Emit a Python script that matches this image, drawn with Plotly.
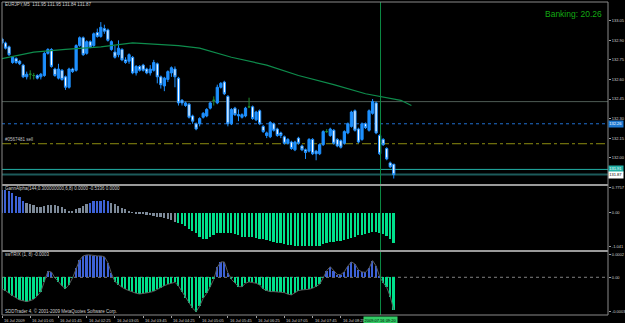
import plotly.graph_objects as go
from plotly.subplots import make_subplots

# ---------------- data ----------------
bar_index = list(range(112))
opens = [132.91,132.88,132.85,132.73,132.76,132.74,132.71,132.62,132.64,132.63,
         132.63,132.62,132.63,132.80,132.83,132.68,132.61,132.67,132.62,132.54,
         132.68,132.67,132.86,132.92,132.80,132.89,132.86,132.96,132.93,132.99,
         132.98,132.83,132.81,132.79,132.83,132.75,132.74,132.77,132.65,132.70,
         132.71,132.68,132.65,132.67,132.72,132.62,132.55,132.60,132.65,132.68,
         132.61,132.44,132.40,132.41,132.32,132.26,132.26,132.31,132.32,132.38,
         132.44,132.42,132.54,132.58,132.47,132.26,132.38,132.32,132.31,132.32,
         132.39,132.39,132.29,132.36,132.24,132.17,132.16,132.26,132.22,132.19,
         132.16,132.11,132.12,132.06,132.15,132.09,132.06,132.05,132.14,132.05,
         132.03,132.10,132.20,132.17,132.21,132.14,132.13,132.11,132.19,132.24,
         132.36,132.22,132.14,132.26,132.21,132.34,132.42,132.17,132.14,132.07,
         131.96,131.95]
highs = [132.92,132.89,132.86,132.77,132.77,132.75,132.72,132.66,132.67,132.65,
         132.64,132.65,132.81,132.84,132.84,132.69,132.72,132.68,132.63,132.69,
         132.69,132.87,132.93,132.93,132.90,132.90,132.96,132.99,133.04,133.02,
         132.99,132.90,132.86,132.90,132.84,132.77,132.80,132.78,132.71,132.71,
         132.72,132.69,132.71,132.75,132.73,132.63,132.62,132.67,132.70,132.70,
         132.62,132.45,132.43,132.42,132.33,132.27,132.31,132.35,132.38,132.43,
         132.47,132.56,132.58,132.59,132.48,132.38,132.39,132.37,132.34,132.39,
         132.46,132.40,132.36,132.37,132.25,132.20,132.28,132.27,132.23,132.20,
         132.17,132.15,132.13,132.13,132.16,132.10,132.07,132.15,132.15,132.06,
         132.11,132.21,132.22,132.23,132.22,132.15,132.14,132.21,132.27,132.36,
         132.37,132.23,132.27,132.27,132.37,132.45,132.43,132.18,132.15,132.08,
         131.97,131.95]
lows = [132.87,132.83,132.78,132.72,132.72,132.71,132.61,132.60,132.60,132.60,
        132.60,132.60,132.62,132.79,132.69,132.62,132.60,132.59,132.52,132.53,
        132.65,132.66,132.85,132.78,132.79,132.84,132.85,132.92,132.92,132.95,
        132.89,132.82,132.76,132.77,132.74,132.72,132.72,132.64,132.63,132.66,
        132.66,132.64,132.63,132.66,132.57,132.53,132.51,132.58,132.62,132.54,
        132.40,132.40,132.39,132.30,132.26,132.21,132.24,132.30,132.31,132.37,
        132.40,132.41,132.53,132.48,132.24,132.25,132.32,132.28,132.30,132.31,
        132.38,132.29,132.28,132.25,132.19,132.15,132.15,132.20,132.16,132.15,
        132.10,132.10,132.06,132.05,132.10,132.05,131.99,132.04,132.02,131.98,
        132.02,132.09,132.19,132.16,132.10,132.08,132.07,132.10,132.18,132.23,
        132.20,132.11,132.13,132.22,132.20,132.33,132.18,132.02,132.09,131.98,
        131.92,131.84]
closes = [132.88,132.84,132.79,132.77,132.73,132.72,132.62,132.64,132.64,132.63,
          132.61,132.64,132.80,132.83,132.70,132.63,132.68,132.60,132.54,132.68,
          132.66,132.86,132.92,132.79,132.89,132.85,132.95,132.93,133.00,132.97,
          132.90,132.89,132.77,132.84,132.75,132.73,132.79,132.65,132.70,132.67,
          132.67,132.65,132.68,132.73,132.62,132.56,132.61,132.66,132.69,132.62,
          132.42,132.42,132.42,132.31,132.28,132.22,132.30,132.34,132.37,132.42,
          132.44,132.54,132.57,132.49,132.26,132.37,132.33,132.33,132.33,132.38,
          132.39,132.30,132.35,132.26,132.20,132.19,132.27,132.21,132.17,132.17,
          132.11,132.14,132.07,132.12,132.11,132.06,132.04,132.14,132.03,132.03,
          132.10,132.20,132.20,132.22,132.11,132.09,132.08,132.20,132.26,132.35,
          132.21,132.12,132.26,132.23,132.36,132.43,132.19,132.03,132.10,131.99,
          131.93,131.87]

# shifted moving average (sampled at bar positions)
ma_idx = [0, 9, 18, 28, 37, 44, 50, 56, 65, 75, 84, 94, 103, 113, 116]
ma_val = [132.76, 132.81, 132.83, 132.85, 132.88, 132.87, 132.86, 132.84,
          132.77, 132.71, 132.63, 132.56, 132.49, 132.44, 132.40]

# horizontal levels
level_gray = 132.43
level_blue = 132.26
level_sell = 132.107
level_cyan = 131.91
level_bid = 131.87

# GannAlpha histogram
gann = [0.70,0.70,0.67,0.60,0.52,0.48,0.37,0.31,0.27,0.23,
        0.19,0.17,0.21,0.24,0.24,0.24,0.22,0.19,0.10,0.06,
        0.04,0.10,0.14,0.22,0.27,0.31,0.35,0.37,0.37,0.39,
        0.37,0.31,0.27,0.21,0.14,0.10,0.03,0.01,-0.01,-0.03,
        -0.04,-0.06,-0.08,-0.10,-0.12,-0.14,-0.17,-0.20,-0.23,-0.28,
        -0.33,-0.36,-0.41,-0.49,-0.56,-0.64,-0.74,-0.81,-0.82,-0.76,
        -0.70,-0.64,-0.62,-0.62,-0.64,-0.64,-0.67,-0.70,-0.74,-0.76,
        -0.74,-0.74,-0.79,-0.81,-0.83,-0.85,-0.89,-0.92,-0.94,-0.95,
        -0.97,-0.99,-1.01,-1.02,-1.03,-1.04,-1.04,-1.04,-1.04,-1.04,
        -1.02,-0.98,-0.95,-0.92,-0.90,-0.88,-0.87,-0.85,-0.81,-0.77,
        -0.74,-0.70,-0.68,-0.65,-0.62,-0.61,-0.61,-0.62,-0.66,-0.72,
        -0.81,-0.93]
gann_state_runs = [("strong", 7), ("weak", 18), ("strong", 6), ("weak", 19), ("down", 62)]

# swTRIX histogram (units of 1e-4)
trix_e4 = [-1.03,-1.18,-1.42,-1.65,-1.83,-2.01,-2.09,-2.15,-2.07,-1.95,
           -1.65,-1.27,-0.38,0.53,0.47,-0.06,-0.38,-0.77,-1.00,-0.65,
           -0.05,0.80,1.53,1.89,1.98,1.98,1.92,1.89,1.89,1.83,
           1.30,0.35,-0.38,-0.68,-0.89,-1.06,-1.18,-1.33,-1.42,-1.48,
           -1.45,-1.42,-1.33,-1.24,-1.06,-0.91,-0.74,-0.62,-0.53,-0.44,
           -0.77,-1.27,-1.80,-2.30,-2.74,-3.04,-2.55,-1.86,-1.42,-0.83,
           -0.18,0.89,1.36,1.36,0.41,-0.18,-0.53,-0.83,-0.83,-0.53,
           -0.41,-0.44,-0.53,-0.68,-1.03,-1.18,-1.27,-1.27,-1.27,-1.33,
           -1.36,-1.50,-1.56,-1.36,-1.18,-1.12,-1.12,-1.06,-0.97,-0.83,
           -0.62,-0.06,0.59,0.94,0.59,0.24,0.24,0.50,1.00,1.36,
           1.18,0.65,0.47,0.44,0.80,1.48,1.00,0.06,-0.47,-0.89,
           -1.71,-2.89]

price_ticks = [133.05, 132.90, 132.75, 132.60, 132.45, 132.30, 132.15, 132.00]
gann_ticks = [0.7757, 0.0, -1.041]
gann_tick_text = ["0.7757", "0.00", "-1.041"]
trix_ticks = [2.0, 0.0, -3.0]
trix_tick_text = ["0.0002", "0.00", "-0.0003"]

time_label_bars = [0, 8, 16, 24, 32, 40, 48, 56, 64, 72, 80, 88, 96]
time_labels = ["16 Jul 2009", "16 Jul 01:05", "16 Jul 01:45", "16 Jul 02:25",
               "16 Jul 03:05", "16 Jul 03:45", "16 Jul 04:25", "16 Jul 05:05",
               "16 Jul 05:45", "16 Jul 06:25", "16 Jul 07:05", "16 Jul 07:45",
               "16 Jul 08:25"]
cursor_bar = 107.25
cursor_label = "2009.07.16 09:20"

title_text = "EURJPY,M5  131.95 131.95 131.84 131.87"
gann_title = "GannAlpha(144,0.300000000,6,8) 0.0000 -0.5336 0.0000"
trix_title = "swTRIX (1, 8) -0.0003"
order_label = "#0567481 sell"
banking_text = "Banking: 20.26"
copyright_text = "SDDTrader 4, \u00a9 2001-2009 MetaQuotes Software Corp."

# ---------------- figure ----------------
FONT = "Liberation Sans, Arial, sans-serif"
BLUE = "#1e90ff"
fig = make_subplots(rows=3, cols=1, shared_xaxes=True, vertical_spacing=0.01)

body = [i for i in bar_index if opens[i] != closes[i]]
doji = [i for i in bar_index if opens[i] == closes[i]]
fig.add_trace(go.Candlestick(
    x=body, open=[opens[i] for i in body], high=[highs[i] for i in body],
    low=[lows[i] for i in body], close=[closes[i] for i in body],
    increasing=dict(line=dict(color=BLUE, width=1), fillcolor=BLUE),
    decreasing=dict(line=dict(color=BLUE, width=1), fillcolor="#ffffff"),
    whiskerwidth=0, hoverinfo="skip"), row=1, col=1)
fig.add_trace(go.Candlestick(
    x=doji, open=[opens[i] for i in doji], high=[highs[i] for i in doji],
    low=[lows[i] for i in doji], close=[closes[i] for i in doji],
    increasing=dict(line=dict(color="#1f8a2e", width=1), fillcolor="#1f8a2e"),
    decreasing=dict(line=dict(color="#1f8a2e", width=1), fillcolor="#1f8a2e"),
    whiskerwidth=0, hoverinfo="skip"), row=1, col=1)
fig.add_trace(go.Scatter(x=ma_idx, y=ma_val, mode="lines",
                         line=dict(color="#0e8c4c", width=1.2), hoverinfo="skip"),
              row=1, col=1)

state_color = {"strong": "#3d62d6", "weak": "#7d8a99", "down": "#00e08c"}
gann_colors = []
for state, n in gann_state_runs:
    gann_colors += [state_color[state]] * n
fig.add_trace(go.Bar(x=bar_index, y=gann, width=0.5, marker=dict(color=gann_colors, line=dict(width=0)),
                     hoverinfo="skip"), row=2, col=1)

trix_colors = ["#3d62d6" if v > 0 else "#00e08c" for v in trix_e4]
fig.add_trace(go.Bar(x=bar_index, y=trix_e4, width=0.5, marker=dict(color=trix_colors, line=dict(width=0)),
                     hoverinfo="skip"), row=3, col=1)
fig.add_trace(go.Scatter(x=bar_index, y=trix_e4, mode="lines",
                         line=dict(color="#5a5a5a", width=1), hoverinfo="skip"),
              row=3, col=1)

fig.update_layout(
    width=625, height=323, margin=dict(l=2, r=17, t=2, b=8, autoexpand=False),
    paper_bgcolor="#000000", plot_bgcolor="#000000", showlegend=False,
    bargap=0, boxgap=0.1, font=dict(family=FONT, color="#d0d0d0", size=5),
    yaxis=dict(domain=[0.4185, 1.0]),
    yaxis2=dict(domain=[0.2077, 0.4121]),
    yaxis3=dict(domain=[0.0, 0.2013]),
)
fig.update_xaxes(range=[0.0, 171.7], showgrid=False, zeroline=False, automargin=False,
                 showticklabels=False, showline=False, rangeslider=dict(visible=False))
fig.update_xaxes(tickvals=time_label_bars, ticks="outside", ticklen=2,
                 tickcolor="#a0a0a0", row=3, col=1)

axis_common = dict(side="right", showgrid=False, zeroline=False, ticks="outside",
                   ticklen=2, tickcolor="#a0a0a0", showline=False, automargin=False,
                   ticklabelstandoff=0,
                   tickfont=dict(size=4, color="#d0d0d0", family=FONT))
fig.update_yaxes(range=[131.798, 133.194], tickvals=price_ticks,
                 ticktext=["%.2f" % v for v in price_ticks], row=1, col=1, **axis_common)
fig.update_yaxes(range=[-1.156, 0.828], tickvals=gann_ticks, ticktext=gann_tick_text,
                 row=2, col=1, **axis_common)
fig.update_yaxes(range=[-3.34, 2.24], tickvals=trix_ticks, ticktext=trix_tick_text,
                 row=3, col=1, **axis_common)

shapes = []
def hline(y, color, dash="solid", width=1):
    shapes.append(dict(type="line", xref="paper", yref="y", x0=0, x1=1, y0=y, y1=y,
                       line=dict(color=color, width=width, dash=dash), layer="below"))
hline(level_gray, "#4e5c55")
hline(level_blue, "#1e6fd0", "dot")
hline(level_sell, "#8c8c10", "dashdot")
hline(level_cyan, "#22b0a6")
hline(level_bid, "#1c5a5a", width=2)
shapes.append(dict(type="line", xref="paper", yref="y3", x0=0, x1=1, y0=0, y1=0,
                   line=dict(color="#808080", width=1, dash="dot"), layer="below"))
# cursor line through all panels
shapes.append(dict(type="line", xref="x", yref="paper", x0=cursor_bar, x1=cursor_bar,
                   y0=0, y1=1, line=dict(color="#0c8a44", width=1), layer="above"))
# panel separators and frame
for y0, y1 in [(0.4121, 0.4185), (0.2013, 0.2077)]:
    shapes.append(dict(type="rect", xref="paper", yref="paper", x0=0, x1=1, y0=y0, y1=y1,
                       fillcolor="#9a9a9a", line=dict(width=0), layer="above"))
shapes.append(dict(type="rect", xref="paper", yref="paper", x0=0, x1=1, y0=0, y1=1,
                   line=dict(color="#8a8a8a", width=1), layer="above"))
fig.update_layout(shapes=shapes)

ann = []
def text(x, y, s, xref="paper", yref="paper", size=4.5, color="#d0d0d0",
         xanchor="left", yanchor="middle", **kw):
    ann.append(dict(x=x, y=y, xref=xref, yref=yref, text=s, showarrow=False,
                    xanchor=xanchor, yanchor=yanchor,
                    font=dict(size=size, color=color, family=FONT), **kw))

text(0.002, 0.991, title_text)
text(0.9934, 0.963, banking_text, size=8.5, color="#13a813", xanchor="right")
text(0.002, level_sell, order_label, yref="y", yanchor="bottom", color="#c0c0c0")
text(0.002, 0.4026, gann_title)
text(0.002, 0.1933, trix_title)
text(0.002, 0.0112, copyright_text)
for b, lab in zip(time_label_bars, time_labels):
    text(b, -0.002, lab, xref="x", yanchor="top", size=4)
text(cursor_bar, -0.002, cursor_label, xref="x", xanchor="center", yanchor="top",
     size=4, color="#000000", bgcolor="#33cc66", borderpad=0.5)
# price boxes on the axis
text(1.0, level_blue, "%.2f" % level_blue, yref="y", size=4, color="#ffffff", bgcolor="#1e78d0", borderpad=0.3)
text(1.0, level_cyan, "%.2f" % level_cyan, yref="y", size=4, color="#ffffff", bgcolor="#22b0a6", borderpad=0.3)
text(1.0, level_bid, "%.2f" % level_bid, yref="y", size=4, color="#000000", bgcolor="#ffffff", borderpad=0.3)
fig.update_layout(annotations=ann)

fig.write_html("out.html")
